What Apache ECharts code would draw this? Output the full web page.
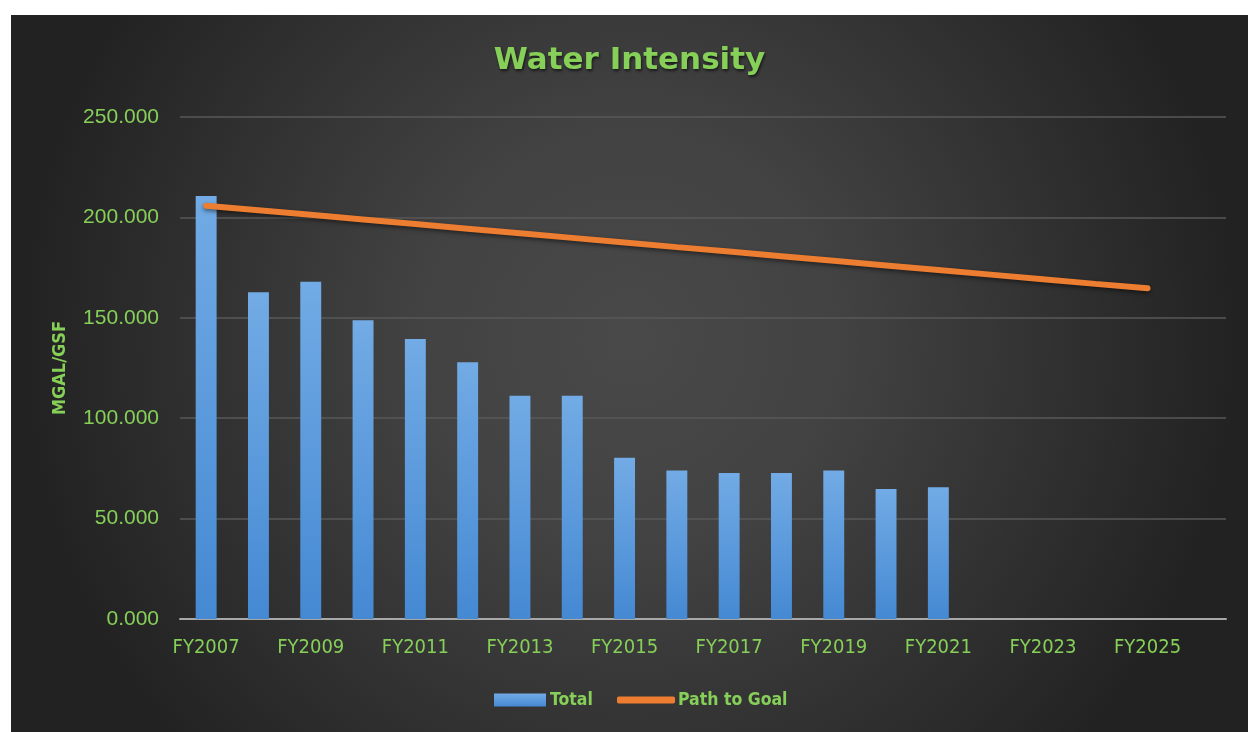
<!DOCTYPE html>
<html>
<head>
<meta charset="utf-8">
<script src="https://cdn.jsdelivr.net/npm/echarts@6/dist/echarts.min.js"></script>
<style>
html,body{margin:0;padding:0;background:#ffffff;width:1248px;height:732px;overflow:hidden;}
#chart{position:absolute;left:11px;top:15px;width:1237px;height:717px;}
</style>
</head>
<body>
<div id="chart"></div>
<script>
const categories = ['FY2007','FY2008','FY2009','FY2010','FY2011','FY2012','FY2013','FY2014','FY2015','FY2016','FY2017','FY2018','FY2019','FY2020','FY2021','FY2022','FY2023','FY2024','FY2025','FY2026'];
const totalValues = [210.7, 162.7, 168.0, 148.8, 139.5, 127.9, 111.2, 111.2, 80.3, 73.9, 72.7, 72.7, 73.9, 64.7, 65.6, null, null, null, null, null];
const pathToGoal = [205.8, 203.6, 201.3, 199.0, 196.7, 194.4, 192.1, 189.8, 187.5, 185.2, 183.0, 180.7, 178.4, 176.1, 173.8, 171.5, 169.2, 166.9, 164.7, null];
const yTicks = {min: 0, max: 250, interval: 50};

const green = '#86cf58';
const condensed = '"DejaVu Sans Condensed","Liberation Sans",sans-serif';
const regular = '"Liberation Sans","Arial",sans-serif';

const legendText = {color: green, fontSize: 17.5, fontFamily: condensed, fontWeight: 'bold', lineHeight: 24};

const chart = echarts.init(document.getElementById('chart'));
chart.setOption({
  backgroundColor: {
    type: 'radial', x: 0.5, y: 0.45, r: 0.85,
    colorStops: [{offset: 0, color: '#494949'}, {offset: 0.35, color: '#424242'}, {offset: 1, color: '#222222'}]
  },
  title: {
    text: 'Water Intensity',
    left: 'center',
    top: 25,
    textStyle: {
      color: green, fontSize: 31, fontWeight: 'bold',
      fontFamily: '"DejaVu Sans","Liberation Sans",sans-serif',
      textShadowColor: 'rgba(0,0,0,0.6)', textShadowBlur: 3, textShadowOffsetX: 1, textShadowOffsetY: 2
    }
  },
  legend: [
    {
      left: 478, top: 668,
      itemWidth: 52, itemHeight: 13, itemGap: 4,
      textStyle: Object.assign({}, legendText, {padding: [0,0,0,-1]}),
      data: [{name: 'Total', icon: 'rect'}]
    },
    {
      left: 601, top: 668,
      itemWidth: 58, itemHeight: 7,
      textStyle: Object.assign({}, legendText, {padding: [0,0,0,-2]}),
      data: [{name: 'Path to Goal', icon: 'roundRect'}]
    }
  ],
  grid: {left: 169, right: 22, top: 102, bottom: 113, containLabel: false},
  xAxis: {
    type: 'category',
    data: categories,
    axisTick: {show: false},
    axisLine: {lineStyle: {color: '#a8a8a8', width: 2}},
    axisLabel: {interval: 1, color: green, fontSize: 20, fontFamily: condensed, margin: 19}
  },
  yAxis: {
    type: 'value',
    min: yTicks.min, max: yTicks.max, interval: yTicks.interval,
    name: 'MGAL/GSF',
    nameLocation: 'middle',
    nameRotate: 90,
    nameGap: 111,
    nameTextStyle: {color: green, fontSize: 18, fontWeight: 'bold', fontFamily: condensed},
    axisLine: {show: false},
    axisTick: {show: false},
    splitLine: {lineStyle: {color: '#595959', width: 1.5}},
    axisLabel: {
      color: green, fontSize: 21, fontFamily: regular, margin: 21,
      formatter: v => v.toFixed(3)
    }
  },
  series: [
    {
      name: 'Total',
      type: 'bar',
      data: totalValues,
      barWidth: '40%',
      itemStyle: {
        color: {type: 'linear', x: 0, y: 0, x2: 0, y2: 1,
          colorStops: [{offset: 0, color: '#72abe5'}, {offset: 1, color: '#4589d3'}]},
        shadowColor: 'rgba(0,0,0,0.45)', shadowBlur: 4, shadowOffsetX: 1, shadowOffsetY: 1
      }
    },
    {
      name: 'Path to Goal',
      type: 'line',
      data: pathToGoal,
      showSymbol: false,
      symbol: 'none',
      lineStyle: {color: '#ed7d31', width: 6, cap: 'round',
        shadowColor: 'rgba(0,0,0,0.5)', shadowBlur: 4, shadowOffsetY: 2},
      itemStyle: {color: '#ed7d31'}
    }
  ]
});
</script>
</body>
</html>
